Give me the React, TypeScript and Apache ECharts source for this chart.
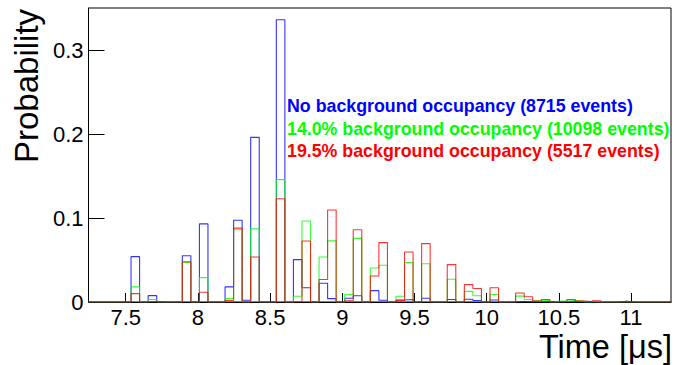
import { useEffect, useRef } from "react";
import * as echarts from "echarts";

// Histogram binning (µs)
const BIN_START = 7.2407;
const BIN_WIDTH = 0.0592;
const X_MIN = 7.242;
const X_MAX = 11.277;
const Y_MIN = 0;
const Y_MAX = 0.35;
const X_TICKS = [7.5, 8, 8.5, 9, 9.5, 10, 10.5, 11];
const Y_TICKS = [0, 0.1, 0.2, 0.3];

const SERIES_NAMES = [
  "No background occupancy (8715 events)",
  "14.0% background occupancy (10098 events)",
  "19.5% background occupancy (5517 events)",
];
const SERIES_COLORS = ["#0000ff", "#00ff00", "#ff0000"];

// Probability per bin (68 bins)
const noBackground = [
  0, 0, 0, 0, 0, 0.054, 0, 0.0076, 0, 0,
  0, 0.055, 0, 0.093, 0, 0, 0.018, 0.0973, 0.002, 0.196,
  0, 0, 0.336, 0, 0.0505, 0.017, 0, 0.0224, 0.004, 0,
  0.0045, 0.0075, 0, 0.0135, 0.002, 0, 0.0024, 0.003, 0, 0.0044,
  0, 0, 0.003, 0, 0.0032, 0.0018, 0, 0.0024, 0, 0,
  0.0005, 0.0003, 0, 0.0005, 0, 0, 0.0005, 0, 0, 0,
  0, 0, 0.0008, 0, 0, 0, 0, 0,
];
const bg140 = [
  0, 0, 0, 0, 0, 0.018, 0, 0.003, 0, 0,
  0, 0.047, 0, 0.029, 0, 0, 0.004, 0.086, 0, 0.087,
  0, 0, 0.1457, 0, 0.0068, 0.0965, 0, 0.0536, 0.0728, 0,
  0.0088, 0.0757, 0, 0.0405, 0.0437, 0, 0.0068, 0.047, 0, 0.0455,
  0, 0, 0.027, 0, 0.0127, 0.0075, 0, 0.009, 0, 0,
  0.007, 0.003, 0.0015, 0.0017, 0, 0.0012, 0.0018, 0.001, 0, 0.0005,
  0, 0, 0, 0, 0, 0, 0, 0,
];
const bg195 = [
  0, 0, 0, 0, 0, 0.01, 0, 0.0008, 0, 0,
  0, 0.048, 0, 0.0116, 0, 0, 0.0017, 0.088, 0, 0.0536,
  0, 0, 0.123, 0, 0.0005, 0.0726, 0, 0.0267, 0.1095, 0,
  0.0015, 0.086, 0, 0.031, 0.0707, 0, 0.0017, 0.0595, 0, 0.0695,
  0, 0, 0.0445, 0, 0.0207, 0.016, 0, 0.017, 0, 0,
  0.0107, 0.0062, 0.001, 0.003, 0, 0.0003, 0.003, 0.0012, 0.0004, 0.0015,
  0, 0, 0.0008, 0, 0, 0, 0, 0,
];

const SERIES_VALUES = [noBackground, bg140, bg195];

function toStepData(values: number[]) {
  const pts: [number, number][] = values.map((v, i) => [BIN_START + i * BIN_WIDTH, v]);
  pts.push([BIN_START + values.length * BIN_WIDTH, 0]);
  pts.push([X_MAX + 0.05, 0]);
  return pts;
}

const FONT = "'Liberation Sans', Arial, Helvetica, sans-serif";

export default function App() {
  const ref = useRef<HTMLDivElement>(null);
  useEffect(() => {
    if (!ref.current) return;
    const chart = echarts.init(ref.current, null, { renderer: "svg" });
    chart.setOption({
      animation: false,
      backgroundColor: "#ffffff",
      grid: {
        left: 88.5,
        right: 21,
        top: 8,
        bottom: 63,
        show: true,
        borderColor: "#000",
        borderWidth: 1,
        backgroundColor: "transparent",
      },
      xAxis: {
        type: "value",
        min: X_MIN,
        max: X_MAX,
        splitLine: { show: false },
        axisLine: { show: true, lineStyle: { color: "#000", width: 1 } },
        axisTick: {
          show: true,
          inside: true,
          length: 9,
          customValues: X_TICKS,
          lineStyle: { color: "#000", width: 1 },
        },
        axisLabel: {
          customValues: X_TICKS,
          margin: 4,
          color: "#000",
          fontSize: 22,
          lineHeight: 22,
          fontFamily: FONT,
        },
      },
      yAxis: {
        type: "value",
        min: Y_MIN,
        max: Y_MAX,
        splitLine: { show: false },
        axisLine: { show: true, lineStyle: { color: "#000", width: 1 } },
        axisTick: {
          show: true,
          inside: true,
          length: 16,
          customValues: Y_TICKS,
          lineStyle: { color: "#000", width: 1 },
        },
        axisLabel: {
          customValues: Y_TICKS,
          margin: 5,
          color: "#000",
          fontSize: 22,
          fontFamily: FONT,
          padding: [5, 0, 0, 0],
        },
      },
      series: SERIES_VALUES.map((vals, idx) => ({
        name: SERIES_NAMES[idx],
        type: "line",
        step: "end",
        data: toStepData(vals),
        showSymbol: false,
        symbol: "none",
        clip: true,
        lineStyle: { color: SERIES_COLORS[idx], width: 1.1, opacity: 0.8 },
        emphasis: { disabled: true },
      })),
      graphic: [
        {
          type: "text",
          x: 26,
          y: 86,
          rotation: Math.PI / 2,
          style: {
            text: "Probability",
            fill: "#000",
            font: `33px ${FONT}`,
            align: "center",
            verticalAlign: "middle",
          },
        },
        {
          type: "text",
          x: 672,
          y: 346.5,
          style: {
            text: "Time [\u03bcs]",
            fill: "#000",
            font: `32.5px ${FONT}`,
            align: "right",
            verticalAlign: "middle",
          },
        },
        ...SERIES_NAMES.map((name, idx) => ({
          type: "text",
          x: 287,
          y: 106.2 + idx * 22.5,
          style: {
            text: name,
            fill: SERIES_COLORS[idx],
            font: `bold 17.8px ${FONT}`,
            align: "left",
            verticalAlign: "middle",
          },
        })),
      ],
    });
    return () => chart.dispose();
  }, []);
  return (
    <div
      ref={ref}
      style={{ position: "absolute", left: 0, top: 0, width: 692, height: 365, background: "#fff" }}
    />
  );
}
